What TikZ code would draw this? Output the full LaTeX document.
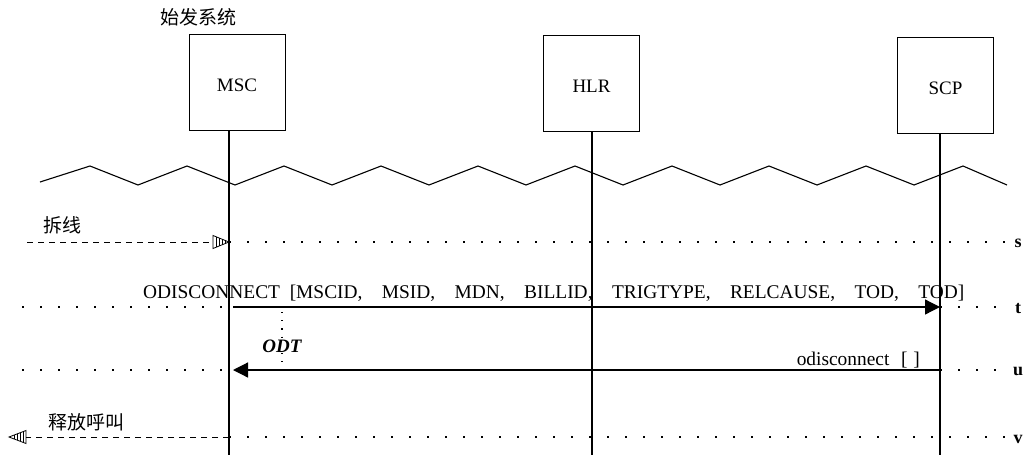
\documentclass[tikz,border=0pt]{standalone}
\usepackage{fontspec}
\setmainfont{Liberation Serif}
\newfontfamily\cjk{Noto Sans CJK SC}
\usetikzlibrary{arrows.meta}
\newcommand\cm{,\hspace{1em}}
\begin{document}
\begin{tikzpicture}[x=1pt,y=-1pt,
  ent/.style={draw, line width=0.9pt, minimum width=96pt, minimum height=96pt, inner sep=0pt, text height=19pt, text depth=0pt, font=\fontsize{19}{22}\selectfont},
  life/.style={line width=1.1pt},
  dotln/.style={line width=1.5pt, dash pattern=on 1.5pt off 16.5pt},
  vdot/.style={line width=1.2pt, dash pattern=on 1.2pt off 7pt},
  dashln/.style={line width=0.9pt, dash pattern=on 6pt off 5pt},
  msg/.style={line width=1.2pt, -{Triangle[length=15pt,width=15pt]}},
  lbl/.style={inner sep=0pt, font=\fontsize{19.4}{22}\selectfont},
  cn/.style={inner sep=0pt, font=\cjk\fontsize{19}{22}\selectfont},
  tag/.style={inner sep=0pt, font=\bfseries\fontsize{18}{20}\selectfont},
  hat/.style={line width=0.8pt},
  wave/.style={line width=1.1pt}
]
\useasboundingbox (0,0) rectangle (1024,455);

% entities
\node[cn] (title) at (198,17) {始发系统};
\node[ent] (msc) at (237,82) {MSC};
\node[ent] (hlr) at (591.5,83) {HLR};
\node[ent] (scp) at (945.5,85) {SCP};

% lifeline x positions
\coordinate (xa) at (229,455);
\coordinate (xb) at (592,455);
\coordinate (xc) at (940,455);
\draw[life] (xa |- msc.south) -- (xa);
\draw[life] (xb |- hlr.south) -- (xb);
\draw[life] (xc |- scp.south) -- (xc);

% zigzag
\draw[wave] (40,182) -- (90,166) -- (138,185) -- (187,166) -- (235,185) -- (284,166) -- (332,185) -- (381,166) -- (429,185) -- (478,166) -- (526,185) -- (575,166) -- (623,185) -- (672,166) -- (720,185) -- (769,166) -- (817,185) -- (866,166) -- (914,185) -- (963,166) -- (1007,185);

% row s
\coordinate (s0) at (27,242);
\coordinate (sb) at (213,242);
\coordinate (sa) at (229,242);
\coordinate (s1) at (1005,242);
\draw[dashln] (s0) -- (sb);
\draw[hat] (213,235.5) -- (sa) -- (213,248.5) -- cycle;
\foreach \x in {216,219,222,225}
  \draw[hat] (\x,{235.5+(\x-213)*6.5/16}) -- (\x,{248.5-(\x-213)*6.5/16});
\draw[dotln] (sa) -- (s1);
\node[tag] (ls) at (1018,243) {s};
\node[cn] (chai) at (62,225) {拆线};

% row t
\coordinate (t0) at (22,307);
\coordinate (ta) at (229,307);
\coordinate (tm) at (233,307);
\coordinate (tc) at (940,307);
\coordinate (t1) at (1003,307);
\draw[dotln] (t0) -- (ta);
\draw[msg] (tm) -- (tc);
\draw[dotln] (tc) -- (t1);
\node[tag] (lt) at (1018,309) {t};
\node[lbl, anchor=base west] (odis) at (143,298) {ODISCONNECT\hspace{0.5em}[MSCID\cm MSID\cm MDN\cm BILLID\cm TRIGTYPE\cm RELCAUSE\cm TOD\cm TOD]};

% ODT
\coordinate (o0) at (282,312);
\coordinate (o1) at (282,370);
\draw[vdot] (o0) -- (o1);
\node[lbl, anchor=base, fill=white, inner sep=1pt, font=\bfseries\itshape\fontsize{19}{22}\selectfont] (odt) at (282,352) {ODT};

% row u
\coordinate (u0) at (22,370);
\coordinate (ua) at (229,370);
\coordinate (um) at (233,370);
\coordinate (uc) at (940,370);
\coordinate (u1) at (1003,370);
\draw[dotln] (u0) -- (ua);
\draw[msg] (uc) -- (um);
\draw[dotln] (uc) -- (u1);
\node[tag] (lu) at (1018,371) {u};
\node[lbl, anchor=base east] (odl) at (920,365) {odisconnect\hspace{0.6em}[\hspace{0.3em}]};

% row v
\coordinate (v0) at (26,437);
\coordinate (vt) at (9,437);
\coordinate (va) at (229,437);
\coordinate (v1) at (1005,437);
\draw[dashln] (va) -- (v0);
\draw[hat] (26,430.5) -- (vt) -- (26,443.5) -- cycle;
\foreach \x in {23,20,17,14}
  \draw[hat] (\x,{430.5+(26-\x)*6.5/17}) -- (\x,{443.5-(26-\x)*6.5/17});
\draw[dotln] (va) -- (v1);
\node[tag] (lv) at (1018,439) {v};
\node[cn] (shi) at (86,422) {释放呼叫};
\end{tikzpicture}
\end{document}
